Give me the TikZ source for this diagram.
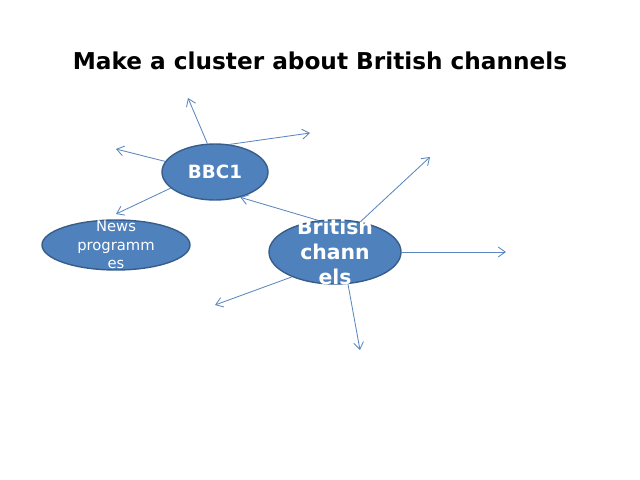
\documentclass[tikz,border=0pt]{standalone}
\usepackage{fontspec}
\setmainfont{DejaVu Sans}
\usetikzlibrary{shapes.geometric, arrows.meta}
\definecolor{bubble}{HTML}{4F81BD}
\definecolor{rim}{HTML}{385D8A}
\definecolor{spoke}{HTML}{5B87C0}
\tikzset{
  blob/.style={ellipse, draw=rim, fill=bubble, line width=1pt, inner sep=0pt},
  word/.style={text=white, align=center},
  ray/.style={draw=spoke, line width=0.6pt, -{Straight Barb[length=5pt,width=7pt]}}
}
\begin{document}
\begin{tikzpicture}[x=0.025cm, y=-0.025cm]
                  \useasboundingbox (0,0) rectangle (640,480);
                  \node (title) at (320,61) {\fontsize{16.5}{20}\selectfont\bfseries Make a cluster about British channels};

                  \node[blob, minimum width=106*0.025cm, minimum height=56*0.025cm] (bbc) at (215,172) {};
                  \node[word, font=\bfseries\fontsize{13}{15}\selectfont] at (bbc) {BBC1};

                  \node[blob, minimum width=148*0.025cm, minimum height=50*0.025cm] (news) at (116,245) {};
                  \node[word, font=\fontsize{10.5}{13}\selectfont] at (news) {News\\programm\\es};

                  \node[blob, minimum width=132*0.025cm, minimum height=64*0.025cm] (brit) at (335,252) {};
                  \node[word, font=\bfseries\fontsize{14.5}{18}\selectfont] at (brit) {British\\chann\\els};

                  % spokes of BBC1
                  \coordinate (b1) at (188,98);
                  \coordinate (b2) at (310,133);
                  \coordinate (b3) at (116,149);
                  \coordinate (b4) at (116,214);
                  \draw[ray] (bbc.105) -- (b1);
                  \draw[ray] (bbc.62) -- (b2);
                  \draw[ray] (bbc.168) -- (b3);
                  \draw[ray] (bbc.200) -- (b4);

                  % spokes of British channels
                  \coordinate (c1) at (430,157);
                  \coordinate (c2) at (506,252);
                  \coordinate (c3) at (215,305);
                  \coordinate (c4) at (360,350);
                  \draw[ray] (brit.118) -- (bbc.315);
                  \draw[ray] (brit.50) -- (c1);
                  \draw[ray] (brit.east) -- (c2);
                  \draw[ray] (brit.210) -- (c3);
                  \draw[ray] (brit.292) -- (c4);
\end{tikzpicture}
\end{document}
